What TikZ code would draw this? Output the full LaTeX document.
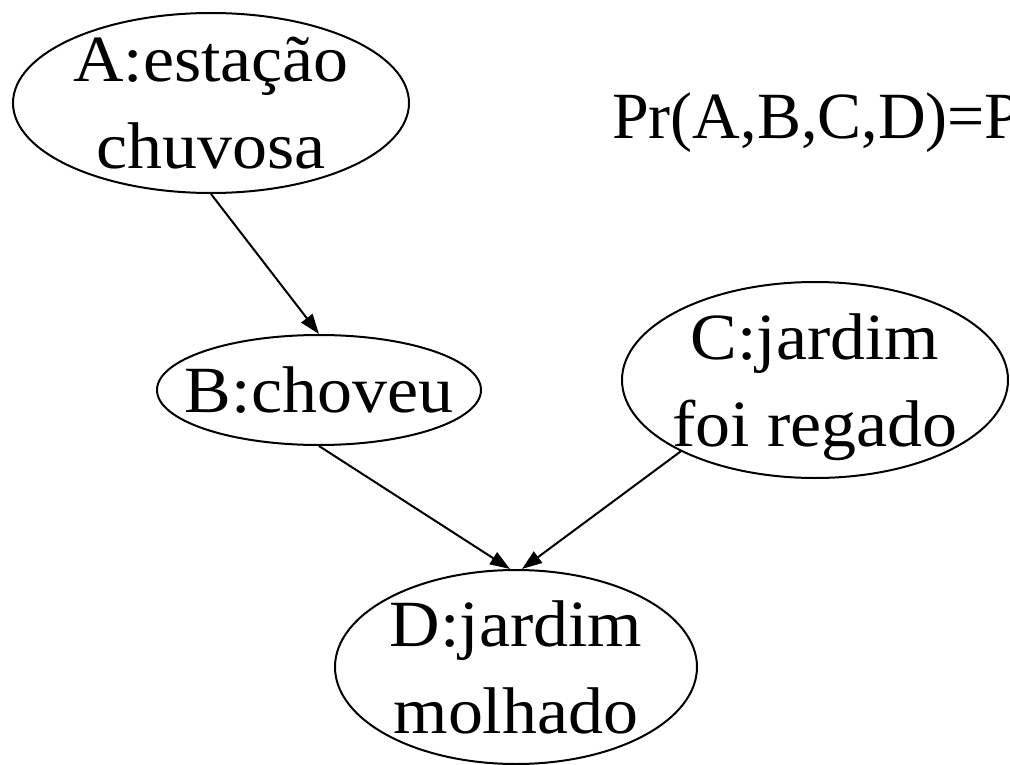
\documentclass[tikz,border=0pt]{standalone}
\usepackage{fontspec}
\setmainfont{Liberation Serif}
\newfontfamily\nodefont{Liberation Serif}[FakeStretch=1.06]
\usetikzlibrary{shapes.geometric,arrows.meta}
\begin{document}
\begin{tikzpicture}[x=1pt,y=-1pt,
  varnode/.style={ellipse,draw,line width=2pt,inner sep=-150pt,align=center,
    font=\nodefont\fontsize{66}{87}\selectfont},
  edge/.style={line width=2pt,-{Triangle[length=20pt,width=14pt]}}]
\useasboundingbox (0,0) rectangle (1010,765);
\clip (0,0) rectangle (1010,765);
\node[varnode,minimum width=396pt,minimum height=180pt] (A) at (211,103) {A:estação\\chuvosa};
\node[varnode,minimum width=324pt,minimum height=110pt] (B) at (319,390) {B:choveu};
\node[varnode,minimum width=386pt,minimum height=196pt] (C) at (815,380) {C:jardim\\foi re\smash{g}ado};
\node[varnode,minimum width=362pt,minimum height=194pt] (D) at (516,667) {D:jardim\\molhado};
\node[anchor=base west,inner sep=0pt,font=\fontsize{66}{80}\selectfont] (P) at (612,139) {Pr(A,B,C,D)=P};
\draw[edge] (A.south) -- (B.north);
\draw[edge] (B.south) -- ([xshift=-6pt]D.north);
\draw[edge] (C.208) -- ([xshift=6pt]D.north);
\end{tikzpicture}
\end{document}
